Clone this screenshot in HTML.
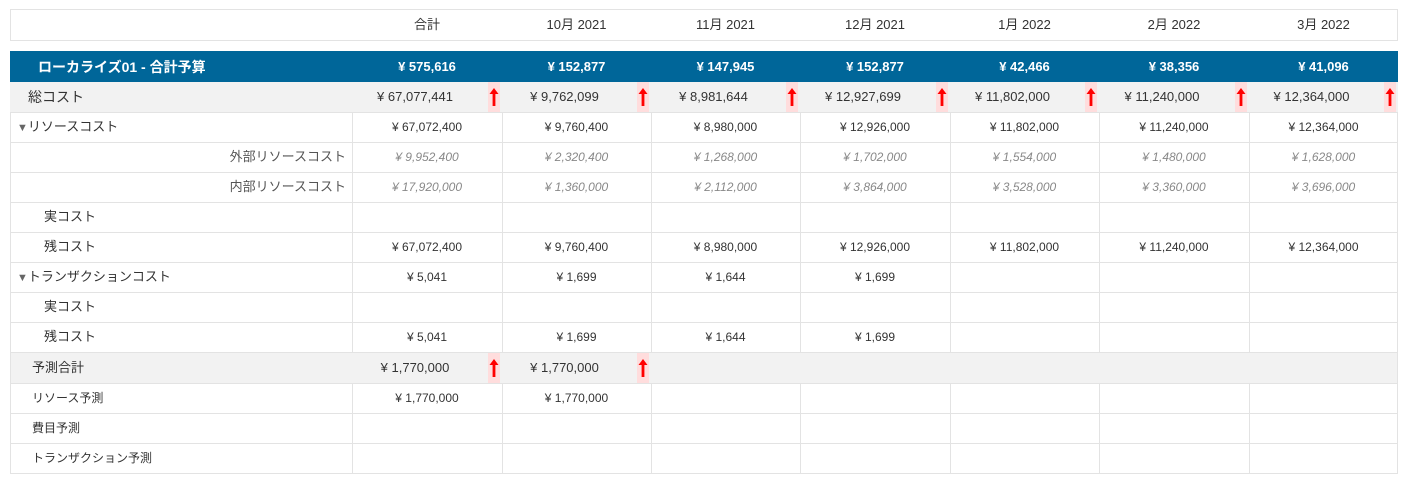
<!DOCTYPE html><html><head><meta charset="utf-8"><style>
body{margin:0;width:1414px;height:487px;background:#fff;font-family:"Liberation Sans","Noto Sans CJK JP",sans-serif;color:#333;position:relative;overflow:hidden}
div{position:absolute;box-sizing:border-box}
.c{text-align:center;white-space:nowrap}
.arr{width:12px;height:30px;background:#fdd}
.vl{width:1px;background:#e3e3e3}
.hl{height:1px;background:#e3e3e3;left:10px;width:1388px}
</style></head><body>
<div style="left:10px;top:9px;width:1388px;height:32px;border:1px solid #e3e3e3"></div>
<div style="left:10px;top:51px;width:1388px;height:31px;background:#006699"></div>
<div style="left:10px;top:82px;width:1388px;height:30px;background:#f2f2f2"></div>
<div style="left:10px;top:352px;width:1388px;height:31px;background:#f2f2f2"></div>
<div id="g"></div>
<script>
var X=[352,502,651,800,950,1099,1249,1398];
var h='';
var A='<svg width="12" height="30" viewBox="0 0 12 30"><path d="M6 6 L1.5 12 L4.6 12 L4.6 24 L7.4 24 L7.4 12 L10.5 12 Z" fill="#f00"/></svg>';
function t(x,y,w,s,st){h+='<div class="c" style="left:'+x+'px;top:'+y+'px;width:'+w+'px;line-height:30px;'+(st||'')+'">'+s.replace('¥','¥ ')+'</div>';}
[112,142,172,202,232,262,292,322,352,383,413,443,473].forEach(function(y){h+='<div class="hl" style="top:'+y+'px"></div>';});
h+='<div class="vl" style="left:10px;top:112px;height:362px"></div><div class="vl" style="left:1397px;top:112px;height:362px"></div>';
X.slice(0,7).forEach(function(x){h+='<div class="vl" style="left:'+x+'px;top:112px;height:240px"></div><div class="vl" style="left:'+x+'px;top:383px;height:90px"></div>';});
var hd=['合計','10月 2021','11月 2021','12月 2021','1月 2022','2月 2022','3月 2022'];
var bl=['¥575,616','¥152,877','¥147,945','¥152,877','¥42,466','¥38,356','¥41,096'];
var tc=['¥67,077,441','¥9,762,099','¥8,981,644','¥12,927,699','¥11,802,000','¥11,240,000','¥12,364,000'];
var rc=['¥67,072,400','¥9,760,400','¥8,980,000','¥12,926,000','¥11,802,000','¥11,240,000','¥12,364,000'];
var ex=['¥9,952,400','¥2,320,400','¥1,268,000','¥1,702,000','¥1,554,000','¥1,480,000','¥1,628,000'];
var inn=['¥17,920,000','¥1,360,000','¥2,112,000','¥3,864,000','¥3,528,000','¥3,360,000','¥3,696,000'];
var tr=['¥5,041','¥1,699','¥1,644','¥1,699'];
for(var i=0;i<7;i++){var x=X[i],w=X[i+1]-X[i];
t(x,10,w,hd[i],'font-size:13px');
t(x,52,w,bl[i],'font-size:13px;font-weight:bold;color:#fff');
t(x-12,82,w,tc[i],'font-size:13px');
h+='<div class="arr" style="left:'+(X[i+1]-14)+'px;top:82px">'+A+'</div>';
t(x,112,w,rc[i],'font-size:12px');
t(x,142,w,ex[i],'font-size:12px;font-style:italic;color:#888');
t(x,172,w,inn[i],'font-size:12px;font-style:italic;color:#888');
t(x,232,w,rc[i],'font-size:12px');
if(i<4){t(x,262,w,tr[i],'font-size:12px');t(x,322,w,tr[i],'font-size:12px');}
if(i<2){t(x-12,353,w,'¥1,770,000','font-size:13px');h+='<div class="arr" style="left:'+(X[i+1]-14)+'px;top:353px">'+A+'</div>';t(x,383,w,'¥1,770,000','font-size:12px');}
}
function L(x,y,s,st){h+='<div style="left:'+x+'px;top:'+y+'px;line-height:30px;white-space:nowrap;'+(st||'')+'">'+s+'</div>';}
L(38,52,'ローカライズ01 - 合計予算','font-size:14px;font-weight:bold;color:#fff');
L(28,82,'総コスト','font-size:14px');
L(17,112,'<span style="font-size:11px;color:#666">▼</span>リソースコスト','font-size:13px');
h+='<div style="left:10px;top:142px;width:336px;text-align:right;line-height:30px;font-size:13px;color:#555">外部リソースコスト</div>';
h+='<div style="left:10px;top:172px;width:336px;text-align:right;line-height:30px;font-size:13px;color:#555">内部リソースコスト</div>';
L(44,202,'実コスト','font-size:13px');L(44,232,'残コスト','font-size:13px');
L(17,262,'<span style="font-size:11px;color:#666">▼</span>トランザクションコスト','font-size:13px');
L(44,292,'実コスト','font-size:13px');L(44,322,'残コスト','font-size:13px');
L(32,353,'予測合計','font-size:13px');L(32,383,'リソース予測','font-size:12px');
L(32,413,'費目予測','font-size:12px');L(32,443,'トランザクション予測','font-size:12px');
document.getElementById('g').outerHTML=h;
</script>
</body></html>
